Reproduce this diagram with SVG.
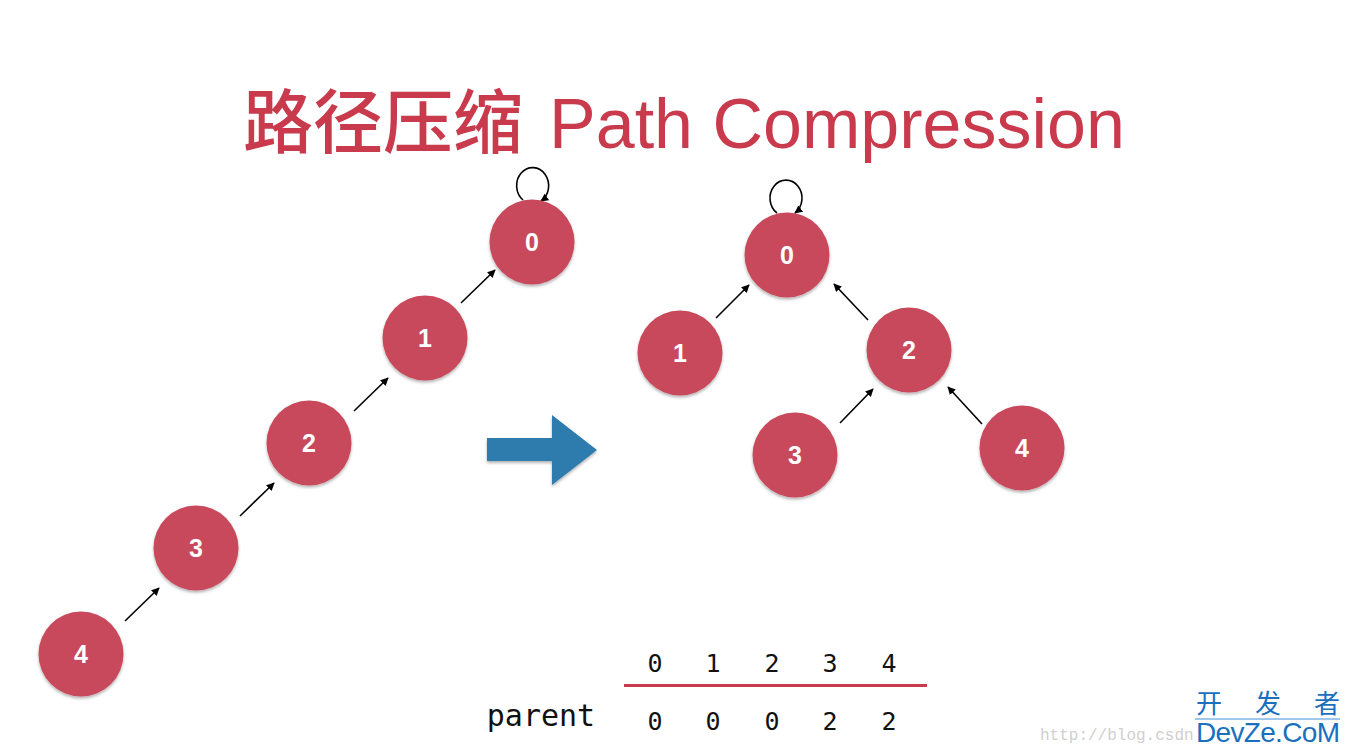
<svg xmlns="http://www.w3.org/2000/svg" width="1351" height="753" viewBox="0 0 1351 753">
<style>
.node circle{fill:#c84a5b;filter:url(#sh)}
.node text{fill:#fff;font-family:"Liberation Sans",Arial,sans-serif;font-weight:bold;font-size:25px;text-anchor:middle}
.edge{stroke:#000;stroke-width:1.6;fill:none;marker-end:url(#ah)}
.mono{font-family:"DejaVu Sans Mono","Liberation Mono",monospace;font-size:25px;fill:#111;text-anchor:middle}
</style>
<defs>
<marker id="ah" viewBox="0 0 10 10" refX="9" refY="5" markerWidth="5" markerHeight="5" orient="auto" markerUnits="strokeWidth">
<path d="M0,0 L10,5 L0,10 z" fill="#000"/>
</marker>
<filter id="sh" x="-20%" y="-20%" width="140%" height="150%">
<feDropShadow dx="0" dy="2" stdDeviation="1.5" flood-color="#000" flood-opacity="0.3"/>
</filter>
</defs>
<rect width="1351" height="753" fill="#fff"/>
<g id="title" fill="#c93a4d">
<text x="243" y="148" font-family="'Noto Sans CJK SC',sans-serif" font-size="70" font-weight="500">路径压缩</text>
<text x="549" y="148" font-family="'Liberation Sans',Arial,sans-serif" font-size="70" textLength="576">Path Compression</text>
</g>
<g id="connectors">
<path class="edge" d="M523,200 A16,18 0 1 1 541,201"/>
<path class="edge" d="M461,303 L495,270"/>
<path class="edge" d="M354,411 L388,378"/>
<path class="edge" d="M240,516 L274,483"/>
<path class="edge" d="M125,621 L159,588"/>
<path class="edge" d="M777,213 A16,18 0 1 1 795,213"/>
<path class="edge" d="M716,318 L749,285"/>
<path class="edge" d="M868,320 L834,284"/>
<path class="edge" d="M840,423 L873,389"/>
<path class="edge" d="M982,424 L948,387"/>
</g>
<g id="L0" class="node"><circle cx="532" cy="242" r="42.5"/><text x="532" y="251">0</text></g>
<g id="L1" class="node"><circle cx="425" cy="338" r="42.5"/><text x="425" y="347">1</text></g>
<g id="L2" class="node"><circle cx="309" cy="443" r="42.5"/><text x="309" y="452">2</text></g>
<g id="L3" class="node"><circle cx="196" cy="548" r="42.5"/><text x="196" y="557">3</text></g>
<g id="L4" class="node"><circle cx="81" cy="654" r="42.5"/><text x="81" y="663">4</text></g>
<g id="R0" class="node"><circle cx="787" cy="255" r="42.5"/><text x="787" y="264">0</text></g>
<g id="R1" class="node"><circle cx="680" cy="353" r="42.5"/><text x="680" y="362">1</text></g>
<g id="R2" class="node"><circle cx="909" cy="350" r="42.5"/><text x="909" y="359">2</text></g>
<g id="R3" class="node"><circle cx="795" cy="455" r="42.5"/><text x="795" y="464">3</text></g>
<g id="R4" class="node"><circle cx="1022" cy="448" r="42.5"/><text x="1022" y="457">4</text></g>
<g id="bigarrow">
<polygon points="487,438 552,438 552,415 597,450 552,485 552,461 487,461" fill="#2e7bae" filter="url(#sh)"/>
</g>
<g id="table">
<text class="mono" x="655" y="672">0</text>
<text class="mono" x="713" y="672">1</text>
<text class="mono" x="772" y="672">2</text>
<text class="mono" x="830" y="672">3</text>
<text class="mono" x="889" y="672">4</text>
<line x1="624" y1="685.5" x2="927" y2="685.5" stroke="#c93a4d" stroke-width="3"/>
<text class="mono" x="541" y="726" style="font-size:30px">parent</text>
<text class="mono" x="655" y="730">0</text>
<text class="mono" x="713" y="730">0</text>
<text class="mono" x="772" y="730">0</text>
<text class="mono" x="830" y="730">2</text>
<text class="mono" x="889" y="730">2</text>
</g>
<g id="watermark">
<text x="1040" y="740" font-family="'Liberation Mono',monospace" font-size="16" fill="#cfcfcf">http://blog.csdn</text>
<text x="1196" y="713" font-family="'Noto Sans CJK SC',sans-serif" font-size="26" fill="#1a6fbf" textLength="144">开发者</text>
<line x1="1195" y1="719" x2="1340" y2="719" stroke="#7fb6e6" stroke-width="1.5"/>
<text x="1196" y="742" font-family="'Liberation Sans',Arial,sans-serif" font-size="28" fill="#1a6fbf" textLength="144">DevZe.CoM</text>
</g>
</svg>
